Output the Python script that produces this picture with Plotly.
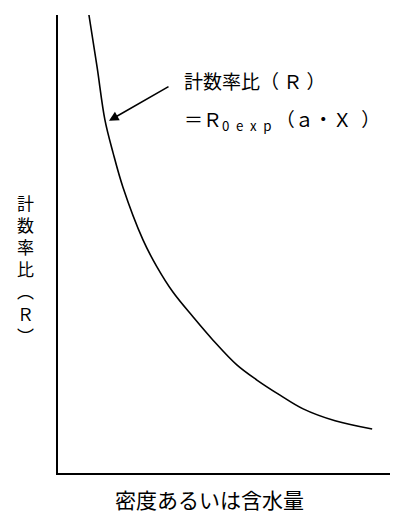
import plotly.graph_objects as go

# curve (arbitrary units, 0-100 on both axes)
density = [9.1, 11.5, 13.8, 16.2, 19.1, 25.0, 29.1, 33.8, 39.7, 45.6, 52.6,
           58.5, 65.3, 72.1, 81.5, 92.4]
count_ratio = [100, 88.6, 77.1, 69.9, 62.4, 50.9, 45.0, 39.5, 34.1, 29.0, 23.6,
               20.3, 17.0, 14.0, 11.4, 9.6]

x_title = "密度あるいは含水量"
y_title = ["計", "数", "率", "比", "︵", "Ｒ", "︶"]
note_line1 = "計数率比（ Ｒ ）"
note_line2 = "＝Ｒ<sub>0\u2002e\u2002x\u2002p</sub> （ａ・Ｘ\u2002）"

font = "Noto Sans CJK JP"

fig = go.Figure()
fig.add_trace(go.Scatter(x=density, y=count_ratio, mode="lines",
                         line=dict(color="black", width=1.6, shape="spline", smoothing=1),
                         hoverinfo="skip", showlegend=False))

# arrow pointing at the curve
fig.add_annotation(x=15.0, y=76.9, xref="x", yref="y", text="",
                   showarrow=True, arrowhead=2, arrowsize=1.2, arrowwidth=1.6,
                   arrowcolor="black", ax=61, ay=-35)

fig.add_annotation(x=36.5, y=85.6, xref="x", yref="y", text=note_line1,
                   showarrow=False, xanchor="left", yanchor="middle",
                   font=dict(family=font, size=19, color="black"))
fig.add_annotation(x=36.5, y=77.1, xref="x", yref="y", text=note_line2,
                   showarrow=False, xanchor="left", yanchor="middle",
                   font=dict(family=font, size=19, color="black"))

fig.add_annotation(x=0.447, y=-0.057, xref="paper", yref="paper", text=x_title,
                   showarrow=False, xanchor="center", yanchor="middle",
                   font=dict(family=font, size=21, color="black"))
fig.add_annotation(x=-0.097, y=0.445, xref="paper", yref="paper",
                   text="<br>".join(y_title),
                   showarrow=False, xanchor="center", yanchor="middle",
                   font=dict(family=font, size=17, color="black"))

fig.update_xaxes(range=[0, 100], showgrid=False, zeroline=False, showticklabels=False,
                 ticks="", showline=True, linecolor="black", linewidth=2)
fig.update_yaxes(range=[0, 100], showgrid=False, zeroline=False, showticklabels=False,
                 ticks="", showline=True, linecolor="black", linewidth=2)
# page body adds 8px around the plot, so the figure is trimmed by that much
fig.update_layout(width=390, height=505, margin=dict(l=50, r=0, t=7, b=40),
                  plot_bgcolor="white", paper_bgcolor="white")

fig.write_html("out.html")
